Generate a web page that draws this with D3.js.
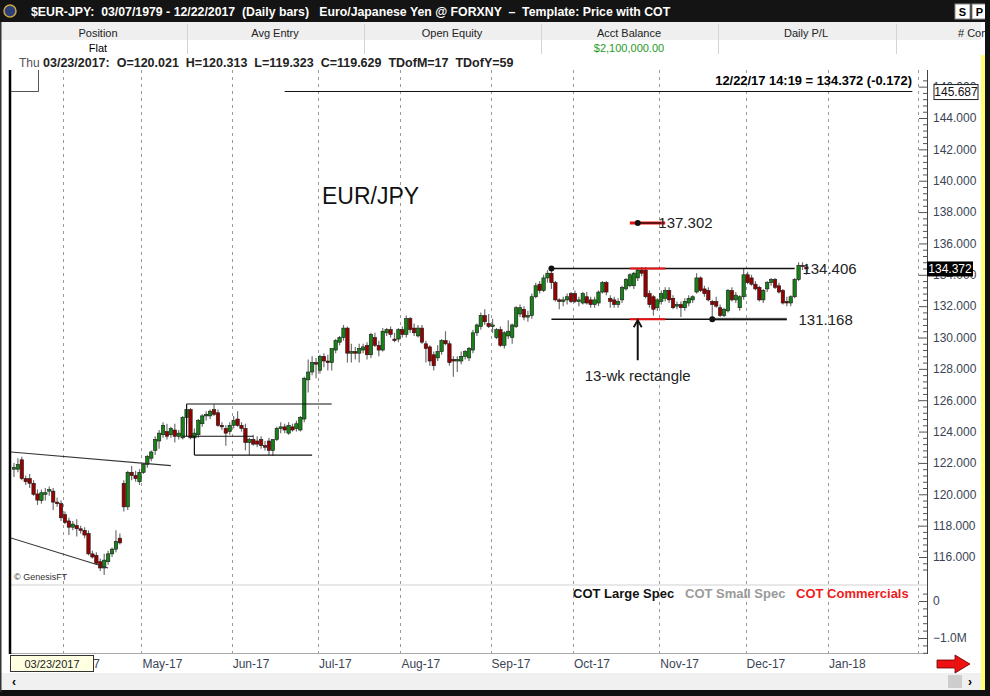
<!DOCTYPE html>
<html>
<head>
<meta charset="utf-8">
<script src="https://cdn.jsdelivr.net/npm/d3@7"></script>
<style>
  body { margin: 0; background: #fff; }
  svg { display: block; }
  text { font-family: "Liberation Sans", Arial, sans-serif; }
</style>
</head>
<body>
<svg id="chart" width="990" height="696"></svg>
<script>
// daily bars, one array per month, each bar is [open, high, low, close]
const mar17 = [ // from Mar 15
  [121.6,122.0,121.1,121.7],[121.6,122.3,121.4,121.9],[122.2,122.4,120.9,121.0],[121.0,121.2,120.6,120.8],
  [121.0,121.3,120.4,120.7],[120.7,120.9,119.9,120.0],[120.021,120.313,119.323,119.629],[119.6,120.3,119.4,120.1],
  [120.0,120.4,119.6,120.1],[120.2,120.5,119.9,120.3],[120.2,120.4,119.0,119.5],[119.5,119.8,119.2,119.4],
  [119.4,119.6,118.3,118.5]
];
const apr17 = [
  [118.7,118.9,118.1,118.2],[118.3,118.5,117.4,117.9],[117.9,118.3,117.7,118.1],[118.0,118.4,117.3,117.8],
  [117.8,118.0,117.5,117.7],[117.7,117.9,117.2,117.4],[117.5,117.7,116.1,116.2],[116.2,116.4,115.9,116.0],
  [116.1,116.3,115.5,115.6],[115.7,115.9,115.1,115.3],[115.3,116.2,114.85,115.8],[115.7,116.4,115.5,116.2],
  [116.2,116.6,116.0,116.5],[116.5,117.7,116.3,117.0],[117.2,117.5,116.8,116.9],[120.7,120.9,118.9,119.2],
  [119.2,121.5,119.0,121.4],[121.4,121.8,120.9,121.2],[121.2,121.5,120.8,121.0],[120.8,121.6,120.6,121.4]
];
const may17 = [
  [121.4,122.0,121.3,121.9],[121.9,122.5,121.7,122.4],[122.3,122.8,122.1,122.7],[122.8,123.7,122.5,123.5],
  [123.4,124.1,122.9,123.9],[123.8,124.6,123.6,124.4],[124.0,124.5,123.5,123.7],[123.8,124.3,123.6,124.2],
  [124.1,124.5,123.3,123.7],[123.7,124.1,123.5,123.9],[123.6,125.0,123.5,124.9],[124.9,125.7,124.5,125.4],
  [125.4,125.5,123.5,123.6],[123.6,124.2,122.5,123.9],[123.8,124.8,123.6,124.7],[124.5,125.1,124.3,125.0],
  [125.0,125.3,124.7,125.1],[125.0,125.4,124.8,125.3],[125.4,125.75,125.0,125.1],[125.2,125.4,124.3,124.4],
  [124.4,124.6,124.1,124.3],[124.2,124.4,123.1,123.9],[124.0,124.6,123.8,124.4]
];
const jun17 = [
  [124.4,125.0,124.2,124.7],[124.8,125.3,124.3,124.4],[124.4,124.6,124.0,124.2],[124.2,124.5,122.8,123.3],
  [123.3,123.6,122.5,123.5],[123.5,123.8,123.1,123.2],[123.4,123.7,123.0,123.2],[123.5,123.7,122.9,123.1],
  [123.1,123.4,122.8,123.0],[123.4,123.6,122.5,122.8],[122.8,123.5,122.45,123.5],[123.5,124.3,123.4,124.2],
  [124.2,124.6,123.9,124.3],[124.3,124.5,123.9,124.1],[123.9,124.6,123.8,124.4],[124.3,124.5,124.0,124.1],
  [124.2,124.7,124.0,124.5],[124.1,125.0,124.0,124.9],[124.8,127.5,124.6,127.4],[127.3,128.6,126.5,127.8],
  [127.8,128.8,127.6,128.4],[128.4,128.7,127.4,128.3]
];
const jul17 = [
  [127.9,128.9,127.7,128.8],[128.8,129.0,128.1,128.5],[128.5,128.9,127.9,128.4],[128.4,129.3,127.9,129.3],
  [129.2,129.9,129.0,129.8],[129.7,130.1,129.5,130.0],[130.0,130.8,129.8,130.6],[130.6,130.7,128.4,129.0],
  [129.0,129.6,128.4,129.1],[129.1,129.4,128.6,129.0],[129.0,129.6,128.4,129.3],[129.2,129.6,129.0,129.4],
  [129.5,129.7,128.6,128.9],[128.9,130.3,128.7,130.2],[130.0,130.3,129.4,129.5],[129.5,129.8,128.8,129.2],
  [129.2,130.6,129.1,130.4],[130.3,130.6,130.1,130.5],[130.5,130.7,130.0,130.2],[129.9,130.3,129.7,129.8],
  [129.9,130.6,129.7,130.5]
];
const aug17 = [
  [130.5,130.7,130.0,130.2],[130.2,131.4,130.0,131.2],[131.2,131.3,130.3,130.5],[130.6,130.9,130.1,130.3],
  [130.1,130.8,130.0,130.6],[130.6,130.8,129.6,129.7],[129.6,129.8,128.4,129.3],[129.4,129.5,128.2,128.5],
  [128.9,129.1,127.9,128.2],[128.7,129.5,128.5,129.1],[129.1,129.9,128.9,129.8],[129.8,130.4,129.5,129.6],
  [129.6,129.8,128.2,128.4],[128.6,128.8,127.5,128.5],[128.5,128.8,127.8,128.6],[128.5,129.1,128.3,128.8],
  [128.8,129.2,128.6,129.1],[128.7,129.4,128.5,129.3],[129.2,130.5,129.0,130.3],[130.3,130.9,130.1,130.8],
  [130.7,131.6,130.5,131.4],[131.4,131.8,130.8,131.0],[130.9,131.5,130.6,130.7]
];
const sep17 = [
  [130.7,131.2,130.3,130.8],[130.0,130.6,129.9,130.5],[130.5,130.7,129.4,129.5],[129.5,130.4,129.3,130.3],
  [130.1,131.1,129.9,130.4],[130.0,130.9,129.6,130.8],[130.7,132.0,130.6,131.9],[131.5,132.1,131.3,131.9],
  [131.8,132.0,131.1,131.3],[131.3,131.7,131.0,131.4],[131.4,132.8,131.2,132.6],[132.6,133.5,132.5,133.3],
  [133.4,133.6,132.8,133.0],[133.0,134.0,132.9,133.8],[133.8,134.3,133.5,134.1],[134.1,134.406,133.1,133.5],
  [133.5,133.6,132.3,132.4],[132.4,132.5,131.8,132.3],[132.3,132.6,132.0,132.4],[132.4,132.8,132.1,132.6],
  [132.8,132.9,132.2,132.3]
];
const oct17 = [
  [132.8,133.0,132.2,132.3],[132.3,132.6,132.0,132.4],[132.2,132.9,132.1,132.8],[132.6,132.9,132.1,132.2],
  [132.4,132.6,131.9,132.1],[132.1,132.6,131.9,132.4],[132.2,133.0,132.0,132.9],[132.9,133.6,132.8,133.5],
  [133.5,133.6,132.7,132.9],[132.5,132.7,131.9,132.3],[132.4,132.6,131.9,132.1],[132.1,132.5,131.9,132.3],
  [132.4,133.3,132.2,133.2],[133.1,133.8,133.0,133.7],[133.3,134.1,133.2,134.0],[133.3,134.2,133.1,134.1],
  [133.8,134.4,133.6,134.3],[134.3,134.5,133.9,134.1],[134.3,134.5,132.5,132.6],[132.8,133.0,131.9,132.1],
  [132.6,132.7,131.4,131.8],[131.9,132.5,131.7,132.4]
];
const nov17 = [
  [132.3,133.0,132.1,132.8],[132.5,133.2,132.3,133.0],[133.0,133.2,132.2,132.4],[132.5,132.7,131.8,131.9],
  [132.0,132.3,131.8,132.1],[132.1,132.3,131.3,131.9],[131.9,132.5,131.7,132.3],[132.2,132.7,132.0,132.5],
  [132.4,132.7,132.2,132.6],[132.9,134.1,132.8,133.8],[133.8,133.9,132.9,133.0],[133.1,133.3,132.6,132.8],
  [133.0,133.2,132.3,132.4],[132.3,132.4,131.168,132.1],[132.3,132.6,131.9,132.0],[131.9,132.1,131.3,131.4],
  [131.4,131.9,131.3,131.8],[131.7,133.1,131.6,133.0],[133.0,133.2,132.3,132.4],[132.4,132.9,132.2,132.7],
  [131.9,132.7,131.7,132.6],[132.6,134.4,132.4,134.0]
];
const dec17 = [ // to Dec 22
  [134.0,134.2,133.4,133.5],[133.8,134.0,133.3,133.4],[133.4,133.6,133.0,133.1],[133.2,133.3,132.3,132.4],
  [132.4,133.1,132.2,133.0],[133.1,133.6,132.9,133.5],[133.5,133.8,133.3,133.7],[133.7,133.8,133.1,133.2],
  [133.3,133.5,132.8,132.9],[133.0,133.1,132.1,132.2],[132.3,132.6,132.0,132.2],[132.2,132.7,132.0,132.6],
  [132.6,133.8,132.5,133.7],[133.7,134.8,133.6,134.6],[134.6,134.8,134.3,134.544],[134.5,134.7,134.0,134.372]
];

const monthLabels = ["Apr-17","May-17","Jun-17","Jul-17","Aug-17","Sep-17","Oct-17","Nov-17","Dec-17","Jan-18"];
const priceTicks = [116,118,120,122,124,126,128,130,132,134,136,138,140,142,144,146];
const cotTicks = [0, -1000000];
const cotLegend = ["COT Large Spec", "COT Small Spec", "COT Commercials"];

const lastPrice = 134.372, lastChange = -0.172, highMark = 145.687;
const rectTop = 134.406, rectBottom = 131.168, targetPrice = 137.302;

// trend lines and boxes drawn on the chart: [from date, to date, from price, to price]
const drawnLines = [
  ["2017-03-13","2017-05-10",122.72,121.83],
  ["2017-03-13","2017-04-18",117.31,115.30],
  ["2017-05-16","2017-07-06",125.76,125.76],
  ["2017-05-16","2017-05-16",125.76,123.70],
  ["2017-05-15","2017-06-08",123.70,123.70],
  ["2017-05-18","2017-05-18",123.70,122.50],
  ["2017-05-18","2017-06-29",122.50,122.50],
  ["2017-06-20","2018-01-30",highMark,highMark],
  ["2017-09-22","2017-12-19",rectTop,rectTop],
  ["2017-09-22","2017-12-15",rectBottom,rectBottom]
];
const redMarks = [
  ["2017-10-20","2017-11-02",rectTop],
  ["2017-10-20","2017-11-02",rectBottom]
];

// ---------- scales ----------
const fmt = d3.timeFormat("%Y-%m-%d");
const days = d3.timeDay.range(new Date(2017,2,13), new Date(2018,1,3))
  .filter(d => d.getDay() !== 0 && d.getDay() !== 6);
const keys = days.map(fmt);

const step = (828 - 63) / 195;
const x0 = 63 - 15 * step;
const x = d3.scaleBand().domain(keys).range([x0, x0 + keys.length * step]);
const xc = k => x(k) + step / 2;

const y = d3.scaleLinear().domain([116, 144]).range([557, 118]);
const yCot = d3.scaleLinear().domain([-1000000, 0]).range([638, 601]);

const bars = [].concat(mar17, apr17, may17, jun17, jul17, aug17, sep17, oct17, nov17, dec17)
  .map((b, i) => ({ key: keys[i + 2], o: b[0], h: b[1], l: b[2], c: b[3] }));

const monthStarts = keys.filter((k, i) => i > 0 && k.slice(5, 7) !== keys[i - 1].slice(5, 7));

const plotLeft = 10, plotRight = 927, plotTop = 70, priceBottom = 585, plotBottom = 653;

const svg = d3.select("#chart");

// ---------- window chrome ----------
svg.append("rect").attr("width", 990).attr("height", 696).attr("fill", "#fff");
svg.append("rect").attr("width", 990).attr("height", 22).attr("fill", "#141414");
svg.append("circle").attr("cx", 10).attr("cy", 11).attr("r", 6).attr("fill", "#2b3f7a").attr("stroke", "#c9a640").attr("stroke-width", 1.5);
svg.append("text").attr("x", 31).attr("y", 16).attr("fill", "#fff").attr("font-size", 12.3).attr("font-weight", "bold")
  .attr("xml:space", "preserve")
  .text("$EUR-JPY:  03/07/1979 - 12/22/2017  (Daily bars)   Euro/Japanese Yen @ FORXNY  \u2013  Template: Price with COT");
[["S", 955], ["P", 972]].forEach(([t, bx]) => {
  svg.append("rect").attr("x", bx).attr("y", 4).attr("width", 15).attr("height", 15).attr("fill", "#fff").attr("stroke", "#888");
  svg.append("text").attr("x", bx + 7.5).attr("y", 16).attr("text-anchor", "middle").attr("font-size", 11).attr("font-weight", "bold").text(t);
});

svg.append("rect").attr("x", 0).attr("y", 22).attr("width", 981).attr("height", 18).attr("fill", "#efefef");
const cols = [["Position", 98], ["Avg Entry", 275], ["Open Equity", 452], ["Acct Balance", 629], ["Daily P/L", 806]];
const colSeps = [187, 364, 541, 718, 896];
svg.append("g").selectAll("line").data(colSeps).join("line")
  .attr("x1", d => d + 0.5).attr("x2", d => d + 0.5).attr("y1", 24).attr("y2", 54).attr("stroke", "#d4d4d4");
svg.append("g").selectAll("text").data(cols).join("text")
  .attr("x", d => d[1]).attr("y", 37).attr("text-anchor", "middle").attr("font-size", 11).attr("fill", "#222").text(d => d[0]);
svg.append("text").attr("x", 958).attr("y", 37).attr("font-size", 11).attr("fill", "#222").text("# Con");
svg.append("text").attr("x", 98).attr("y", 52).attr("text-anchor", "middle").attr("font-size", 11).text("Flat");
svg.append("text").attr("x", 629).attr("y", 52).attr("text-anchor", "middle").attr("font-size", 11).attr("fill", "#1f9a1f").text("$2,100,000.00");
svg.append("text").attr("x", 19).attr("y", 67).attr("font-size", 12).attr("fill", "#555").text("Thu");
svg.append("text").attr("x", 43).attr("y", 67).attr("font-size", 12.5).attr("font-weight", "bold").attr("fill", "#222")
  .attr("xml:space", "preserve")
  .text("03/23/2017:  O=120.021  H=120.313  L=119.323  C=119.629  TDofM=17  TDofY=59");

// ---------- grid ----------
svg.append("defs").append("clipPath").attr("id", "plotClip")
  .append("rect").attr("x", plotLeft + 1).attr("y", plotTop).attr("width", plotRight - plotLeft - 1).attr("height", priceBottom - plotTop);

svg.append("g").selectAll("line").data(monthStarts).join("line")
  .attr("x1", d => Math.round(x(d)) + 0.5).attr("x2", d => Math.round(x(d)) + 0.5)
  .attr("y1", plotTop).attr("y2", plotBottom)
  .attr("stroke", "#9a9a9a").attr("stroke-dasharray", "3,4");

svg.append("line").attr("x1", plotLeft).attr("x2", plotRight).attr("y1", priceBottom).attr("y2", priceBottom)
  .attr("stroke", "#e8e8e8").attr("stroke-width", 2);
svg.append("line").attr("x1", plotLeft).attr("x2", plotRight).attr("y1", plotBottom + 0.5).attr("y2", plotBottom + 0.5).attr("stroke", "#aaa");

// ---------- candles ----------
const plot = svg.append("g").attr("clip-path", "url(#plotClip)");

plot.append("g").selectAll("line").data(bars).join("line")
  .attr("x1", d => xc(d.key)).attr("x2", d => xc(d.key))
  .attr("y1", d => y(d.h)).attr("y2", d => y(d.l))
  .attr("stroke", "#707070").attr("stroke-width", 1.2);

plot.append("g").selectAll("rect").data(bars).join("rect")
  .attr("x", d => xc(d.key) - 1.7).attr("width", 3.4)
  .attr("y", d => y(Math.max(d.o, d.c)))
  .attr("height", d => Math.max(1, Math.abs(y(d.o) - y(d.c))))
  .attr("fill", d => d.c > d.o ? "#178217" : (d.c < d.o ? "#960000" : "#222"))
  .attr("stroke", "#1a1a1a").attr("stroke-width", 0.6);

// ---------- drawn lines ----------
const ann = plot.append("g");
ann.append("line")
  .attr("x1", xc("2017-11-20")).attr("x2", xc("2017-12-15")).attr("y1", y(rectBottom)).attr("y2", y(rectBottom))
  .attr("stroke", "#999").attr("stroke-width", 3);
ann.selectAll("line.drawn").data(drawnLines).join("line").attr("class", "drawn")
  .attr("x1", d => xc(d[0])).attr("x2", d => xc(d[1])).attr("y1", d => y(d[2])).attr("y2", d => y(d[3]))
  .attr("stroke", (d, i) => i < 2 ? "#333" : "#111")
  .attr("stroke-width", (d, i) => i >= 8 ? 1.5 : 1.1);
ann.selectAll("line.red").data(redMarks).join("line").attr("class", "red")
  .attr("x1", d => xc(d[0])).attr("x2", d => xc(d[1])).attr("y1", d => y(d[2])).attr("y2", d => y(d[2]))
  .attr("stroke", "#e81010").attr("stroke-width", 2);
// price target marker: red bar with a shorter black line on it
ann.append("line").attr("x1", xc("2017-10-20")).attr("x2", xc("2017-11-02"))
  .attr("y1", y(targetPrice)).attr("y2", y(targetPrice)).attr("stroke", "#e81010").attr("stroke-width", 3);
ann.append("line").attr("x1", xc("2017-10-24")).attr("x2", xc("2017-11-01"))
  .attr("y1", y(targetPrice)).attr("y2", y(targetPrice)).attr("stroke", "#111").attr("stroke-width", 1.2);
ann.selectAll("circle").data([["2017-09-22", rectTop], ["2017-11-20", rectBottom], ["2017-10-24", targetPrice]]).join("circle")
  .attr("cx", d => xc(d[0])).attr("cy", d => y(d[1])).attr("r", 3).attr("fill", "#111");

// arrow pointing at the lower edge of the rectangle
const ax = xc("2017-10-24");
ann.append("line").attr("x1", ax).attr("x2", ax).attr("y1", y(128.55)).attr("y2", y(rectBottom) + 1)
  .attr("stroke", "#111").attr("stroke-width", 2);
ann.append("path").attr("d", `M${ax - 4},${y(rectBottom) + 8} L${ax},${y(rectBottom) + 1} L${ax + 4},${y(rectBottom) + 8}`)
  .attr("fill", "none").attr("stroke", "#111").attr("stroke-width", 1.8);

const labels = svg.append("g").attr("font-size", 15).attr("fill", "#222");
labels.append("text").attr("x", xc("2017-10-31") + 1).attr("y", y(targetPrice) + 5).text(targetPrice.toFixed(3));
labels.append("text").attr("x", xc("2017-12-22") - 4).attr("y", y(rectTop) + 6).text(rectTop.toFixed(3));
labels.append("text").attr("x", xc("2017-12-21") - 4).attr("y", y(rectBottom) + 6).text(rectBottom.toFixed(3));
labels.append("text").attr("x", ax).attr("y", 381).attr("text-anchor", "middle").text("13-wk rectangle");
svg.append("text").attr("x", 322).attr("y", 204).attr("font-size", 23).attr("fill", "#111").text("EUR/JPY");

svg.append("text").attr("x", 912).attr("y", 85).attr("text-anchor", "end").attr("font-size", 12.9).attr("font-weight", "bold")
  .text(`12/22/17 14:19 = ${lastPrice.toFixed(3)} (${lastChange.toFixed(3)})`);
svg.append("text").attr("x", 14).attr("y", 580).attr("font-size", 9).attr("fill", "#333").text("\u00a9 GenesisFT");

// top-left marker box
svg.append("path").attr("d", "M10,91.5 H38.5 V70").attr("fill", "none").attr("stroke", "#555");

// COT legend
const legColors = ["#111", "#9a9a9a", "#ee1c1c"];
const legX = [573, 685, 796];
svg.append("g").selectAll("text").data(cotLegend).join("text")
  .attr("x", (d, i) => legX[i]).attr("y", 598).attr("font-size", 13).attr("font-weight", "bold")
  .attr("fill", (d, i) => legColors[i]).text(d => d);

// ---------- axes ----------
svg.append("line").attr("x1", plotLeft).attr("x2", plotLeft).attr("y1", plotTop).attr("y2", plotBottom + 1).attr("stroke", "#000").attr("stroke-width", 2.5);

const minorTicks = d3.range(115.2, 146.5, 0.4).filter(v => Math.abs(v / 2 - Math.round(v / 2)) > 0.01 && y(v) > plotTop + 4 && y(v) < priceBottom - 2);
const axisG = svg.append("g").attr("transform", `translate(${plotRight},0)`);
axisG.append("g").call(d3.axisRight(y).tickValues(minorTicks).tickSize(-4).tickFormat(""))
  .call(g => g.select(".domain").remove());
axisG.append("g").call(d3.axisRight(y).tickValues(priceTicks).tickSizeInner(-8).tickSizeOuter(0).tickPadding(6).tickFormat(d3.format(".3f")))
  .call(g => g.select(".domain").remove());
const cotMinor = d3.range(-1400000, 500000, 200000).filter(v => v !== 0 && v !== -1000000 && yCot(v) > 588 && yCot(v) < plotBottom);
axisG.append("g").call(d3.axisRight(yCot).tickValues(cotMinor).tickSize(-4).tickFormat(""))
  .call(g => g.select(".domain").remove());
axisG.append("g").call(d3.axisRight(yCot).tickValues(cotTicks).tickSizeInner(-8).tickSizeOuter(0).tickPadding(6)
  .tickFormat(d => d === 0 ? "0" : d3.format(".1f")(d / 1e6) + "M"))
  .call(g => g.select(".domain").remove());
axisG.selectAll("line").attr("stroke", "#555");
axisG.selectAll("text").attr("font-size", 12).attr("fill", "#3a4454").attr("font-family", "Liberation Sans, Arial, sans-serif");
svg.append("line").attr("x1", plotRight + 0.5).attr("x2", plotRight + 0.5).attr("y1", plotTop).attr("y2", plotBottom + 1).attr("stroke", "#444");

// price flags on the axis
svg.append("rect").attr("x", 934).attr("y", y(highMark) - 7).attr("width", 44).attr("height", 15).attr("fill", "#fff").attr("stroke", "#222");
svg.append("text").attr("x", 956).attr("y", y(highMark) + 4.5).attr("text-anchor", "middle").attr("font-size", 12).attr("fill", "#111").text(highMark.toFixed(3));
svg.append("rect").attr("x", 927).attr("y", y(lastPrice) - 7.5).attr("width", 46).attr("height", 15).attr("fill", "#000");
svg.append("text").attr("x", 950).attr("y", y(lastPrice) + 4.5).attr("text-anchor", "middle").attr("font-size", 12).attr("fill", "#fff").text(lastPrice.toFixed(3));

// month labels
svg.append("g").selectAll("text").data(monthStarts).join("text")
  .attr("x", d => x(d) + 1).attr("y", 668).attr("font-size", 12).attr("fill", "#3a4454")
  .text((d, i) => monthLabels[i]);

// date box, scrollbar, arrow, frame
svg.append("rect").attr("x", 10.5).attr("y", 655.5).attr("width", 83).attr("height", 16).attr("fill", "#ffffe1").attr("stroke", "#333");
svg.append("text").attr("x", 52).attr("y", 668).attr("text-anchor", "middle").attr("font-size", 11).attr("fill", "#222").text("03/23/2017");
svg.append("rect").attr("x", 0).attr("y", 673).attr("width", 981).attr("height", 17).attr("fill", "#f0f0f0");
svg.append("rect").attr("x", 948).attr("y", 675).attr("width", 14).attr("height", 13).attr("fill", "#cdcdcd");
svg.append("text").attr("x", 12).attr("y", 686).attr("font-size", 12).attr("font-weight", "bold").text("\u2039");
svg.append("text").attr("x", 968).attr("y", 686).attr("font-size", 12).attr("font-weight", "bold").text("\u203a");
svg.append("path").attr("d", "M937,660 H955 V655 L970,664 L955,673 V668 H937 Z")
  .attr("fill", "#ee1111").attr("stroke", "#600").attr("stroke-width", 0.8);
svg.append("rect").attr("x", 981).attr("y", 55).attr("width", 4).attr("height", 635).attr("fill", "#ffff70");
svg.append("rect").attr("x", 985).attr("y", 0).attr("width", 5).attr("height", 696).attr("fill", "#111");
svg.append("rect").attr("x", 0).attr("y", 690).attr("width", 990).attr("height", 6).attr("fill", "#111");
svg.append("rect").attr("x", 0).attr("y", 22).attr("width", 1.5).attr("height", 670).attr("fill", "#333");
</script>
</body>
</html>
